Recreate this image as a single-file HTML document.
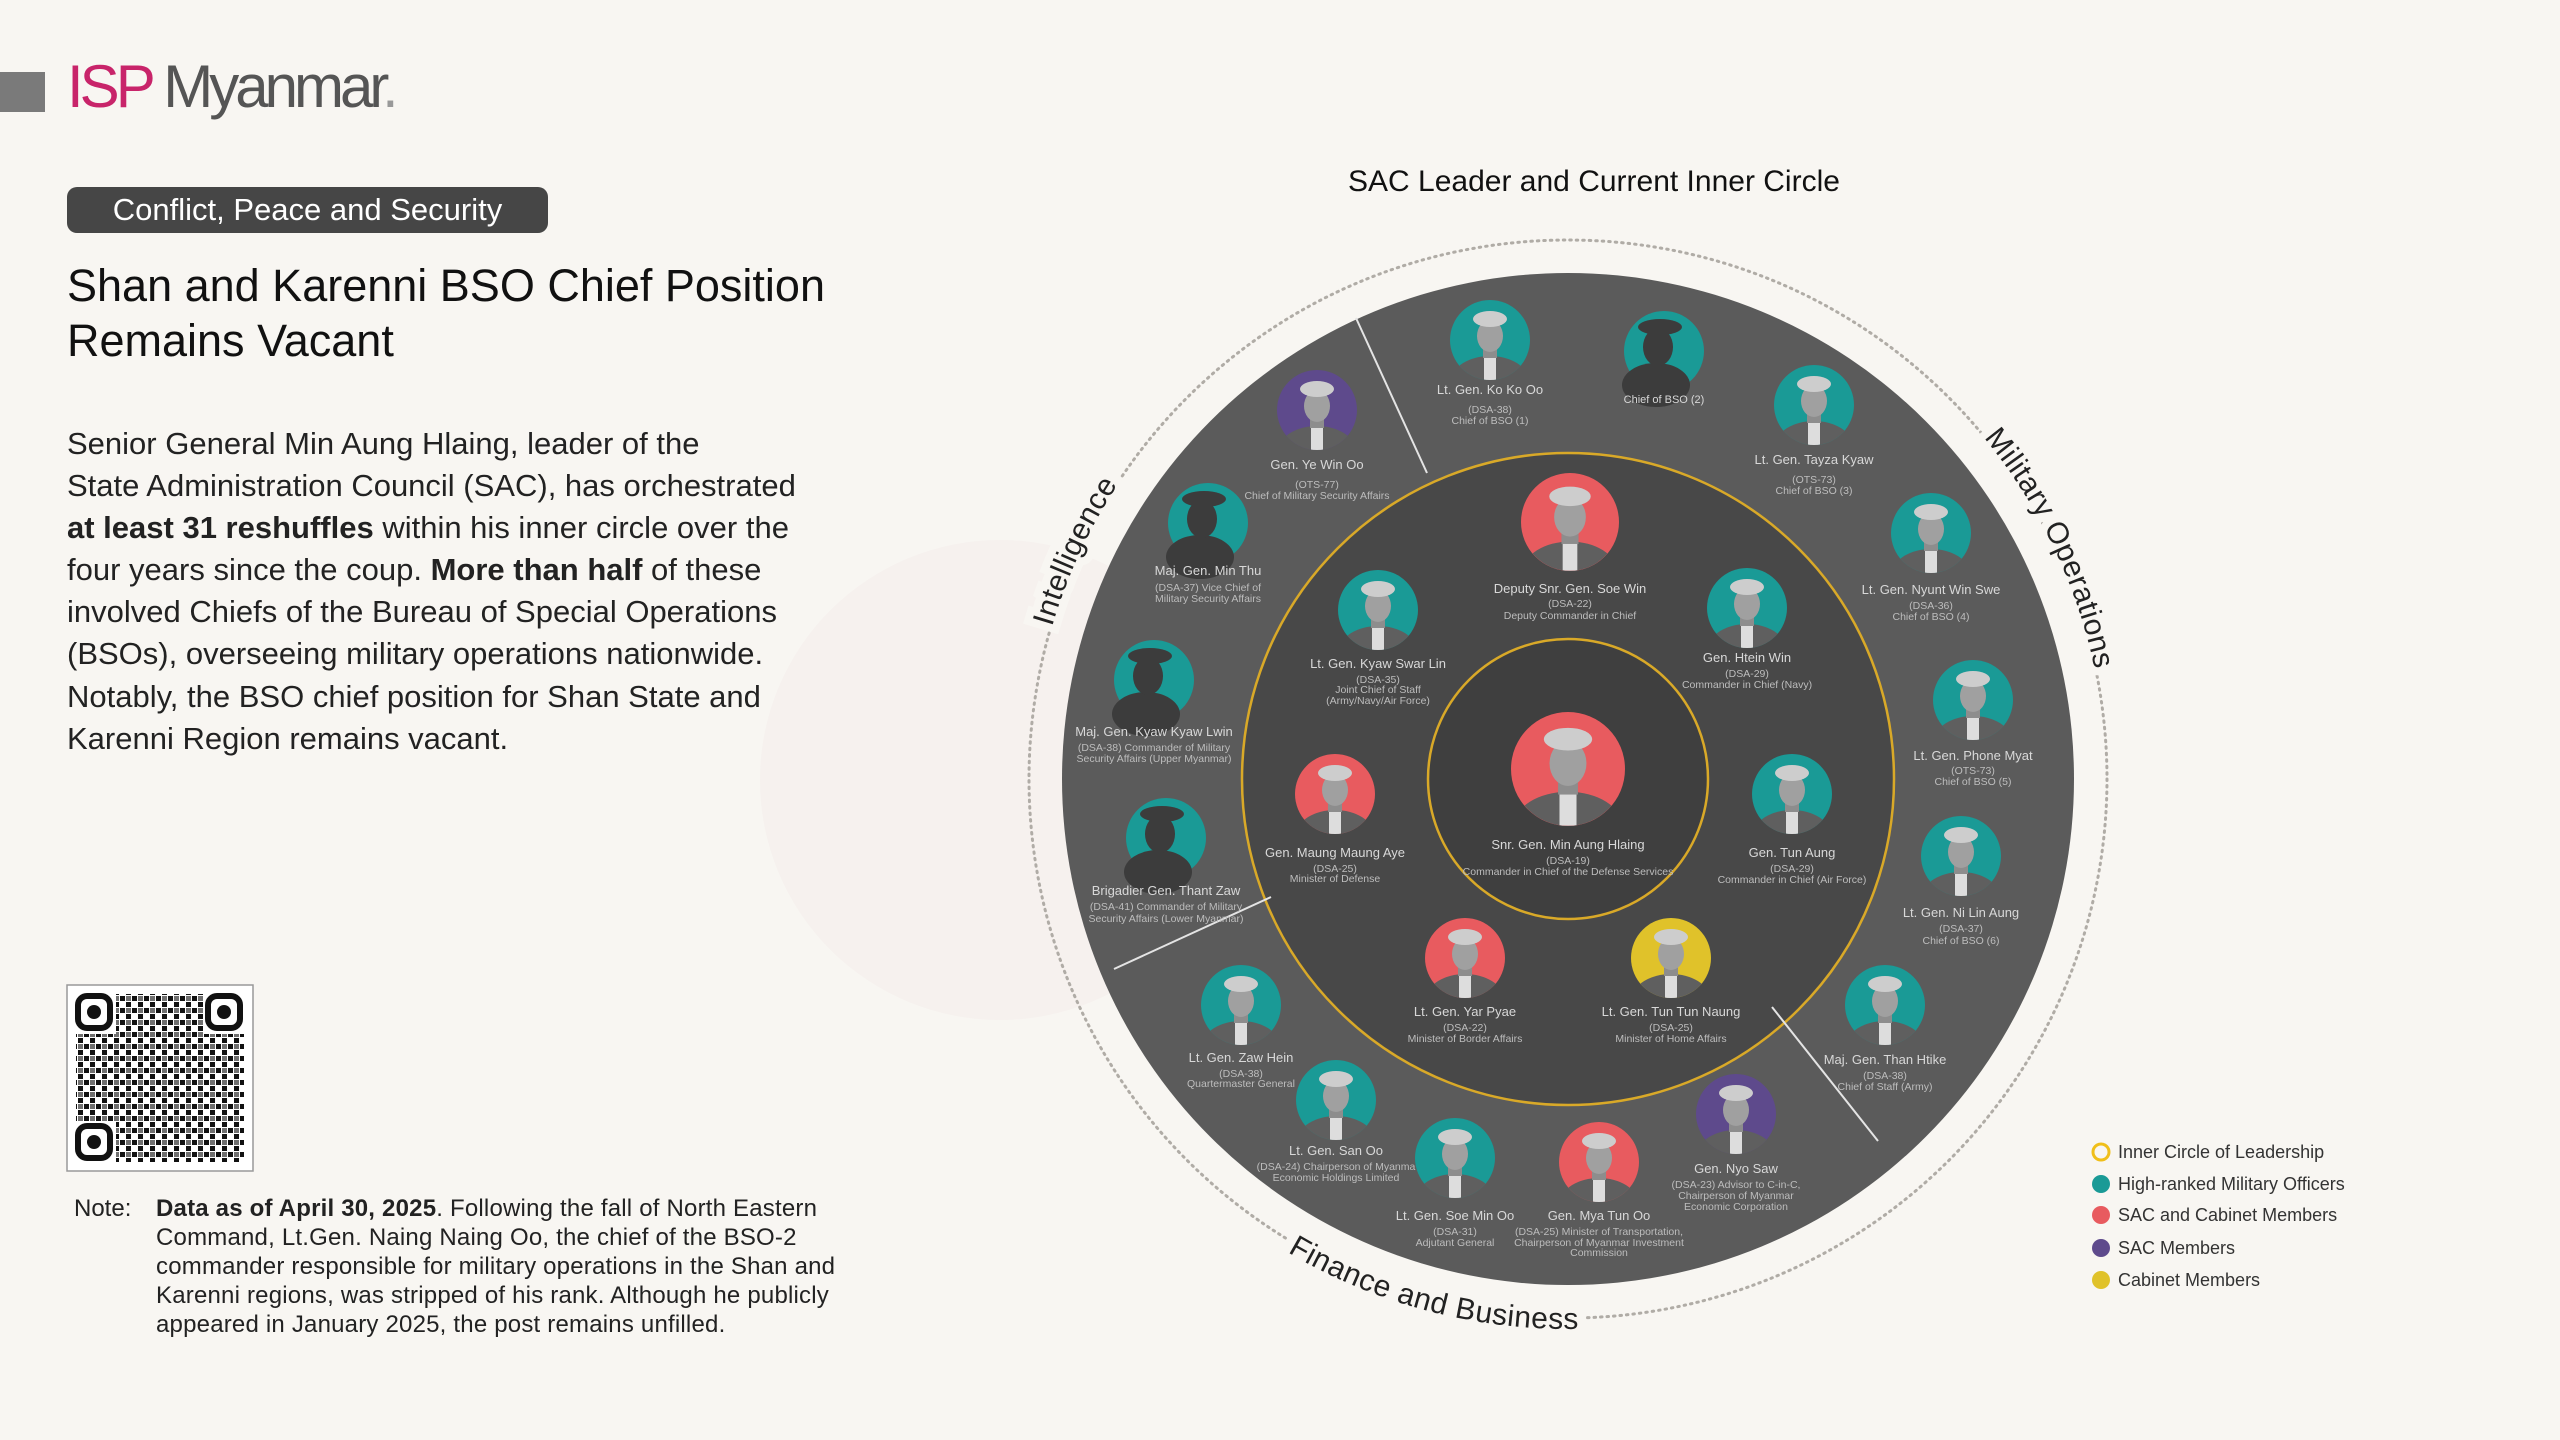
<!DOCTYPE html>
<html><head><meta charset="utf-8">
<style>
html,body{margin:0;padding:0}
body{width:2560px;height:1440px;background:#f8f6f2;position:relative;overflow:hidden;font-family:"Liberation Sans",sans-serif;color:#1a1a1a}
.abs{position:absolute;white-space:nowrap}
</style></head><body>
<svg class="abs" style="left:0;top:0" width="2560" height="1440" viewBox="0 0 2560 1440">
<defs>
<clipPath id="cp"><circle r="40"/></clipPath>
<g id="fig">
 <g clip-path="url(#cp)"><ellipse cx="0" cy="40" rx="38" ry="24" fill="#5f5f5f"/><rect x="-6" y="16" width="12" height="24" fill="#ddd"/></g>
 <rect x="-7" y="4" width="14" height="14" fill="#8d8d8d"/>
 <ellipse cx="0" cy="-4" rx="13" ry="16" fill="#a0a0a0"/>
 <ellipse cx="0" cy="-21" rx="17" ry="8" fill="#cdcdcd"/>
</g>
<g id="sil" fill="#3c3c3c">
 <ellipse cx="-8" cy="34" rx="34" ry="22"/>
 <ellipse cx="-6" cy="-4" rx="15" ry="19"/>
 <ellipse cx="-4" cy="-24" rx="22" ry="8"/>
</g>
<path id="cwp" d="M1030,779 A538,538 0 1 1 2106,779 A538,538 0 1 1 1030,779"/>
<path id="ccwp" d="M1018,779 A550,550 0 1 0 2118,779 A550,550 0 1 0 1018,779"/>
</defs>
<!-- faint watermark -->
<circle cx="1000" cy="780" r="240" fill="#f3e9e7" opacity="0.35"/>
<!-- dotted ring -->
<circle cx="1568" cy="779" r="539" fill="none" stroke="#b0aca6" stroke-width="3" stroke-dasharray="1.5 5" stroke-linecap="round"/>
<!-- disks -->
<circle cx="1568" cy="779" r="506" fill="#5b5b5b"/>
<circle cx="1568" cy="779" r="326" fill="#484848" stroke="#d9a928" stroke-width="2.5"/>
<circle cx="1568" cy="779" r="140" fill="#3f3f3f" stroke="#d9a928" stroke-width="2.5"/>
<!-- dividers -->
<g stroke="#e4e4e4" stroke-width="2">
<line x1="1356" y1="318" x2="1427" y2="473"/>
<line x1="1114" y1="969" x2="1271" y2="897"/>
<line x1="1772" y1="1007" x2="1878" y2="1141"/>
</g>
<!-- curved labels: background stroke pass -->
<g font-size="30" fill="none" stroke="#f8f6f2" stroke-width="16" letter-spacing="0.5">
<text><textPath href="#cwp" startOffset="6.9%" text-anchor="middle">Intelligence</textPath></text>
<text><textPath href="#cwp" startOffset="42.9%" text-anchor="middle">Military Operations</textPath></text>
<text><textPath href="#ccwp" startOffset="20.9%" text-anchor="middle">Finance and Business</textPath></text>
</g>
<g font-size="30" fill="#222" letter-spacing="0.5">
<text><textPath href="#cwp" startOffset="6.9%" text-anchor="middle">Intelligence</textPath></text>
<text><textPath href="#cwp" startOffset="42.9%" text-anchor="middle">Military Operations</textPath></text>
<text><textPath href="#ccwp" startOffset="20.9%" text-anchor="middle">Finance and Business</textPath></text>
</g>
<!-- title -->
<text x="1594" y="191" font-size="30" text-anchor="middle" fill="#111">SAC Leader and Current Inner Circle</text>

<!-- portraits -->
<g>
<circle cx="1490" cy="340" r="40" fill="#1a9a96"/><use href="#fig" x="1490" y="340"/>
<circle cx="1664" cy="351" r="40" fill="#1a9a96"/><use href="#sil" x="1664" y="351"/>
<circle cx="1814" cy="405" r="40" fill="#1a9a96"/><use href="#fig" x="1814" y="405"/>
<circle cx="1317" cy="410" r="40" fill="#5e4a8c"/><use href="#fig" x="1317" y="410"/>
<circle cx="1208" cy="523" r="40" fill="#1a9a96"/><use href="#sil" x="1208" y="523"/>
<circle cx="1931" cy="533" r="40" fill="#1a9a96"/><use href="#fig" x="1931" y="533"/>
<circle cx="1570" cy="522" r="49" fill="#e85b5f"/><use href="#fig" transform="translate(1570,522) scale(1.22)"/>
<circle cx="1378" cy="610" r="40" fill="#1a9a96"/><use href="#fig" x="1378" y="610"/>
<circle cx="1747" cy="608" r="40" fill="#1a9a96"/><use href="#fig" x="1747" y="608"/>
<circle cx="1154" cy="680" r="40" fill="#1a9a96"/><use href="#sil" x="1154" y="680"/>
<circle cx="1973" cy="700" r="40" fill="#1a9a96"/><use href="#fig" x="1973" y="700"/>
<circle cx="1568" cy="769" r="57" fill="#e85b5f"/><use href="#fig" transform="translate(1568,769) scale(1.42)"/>
<circle cx="1335" cy="794" r="40" fill="#e85b5f"/><use href="#fig" x="1335" y="794"/>
<circle cx="1792" cy="794" r="40" fill="#1a9a96"/><use href="#fig" x="1792" y="794"/>
<circle cx="1166" cy="838" r="40" fill="#1a9a96"/><use href="#sil" x="1166" y="838"/>
<circle cx="1961" cy="856" r="40" fill="#1a9a96"/><use href="#fig" x="1961" y="856"/>
<circle cx="1465" cy="958" r="40" fill="#e85b5f"/><use href="#fig" x="1465" y="958"/>
<circle cx="1671" cy="958" r="40" fill="#e0c22a"/><use href="#fig" x="1671" y="958"/>
<circle cx="1241" cy="1005" r="40" fill="#1a9a96"/><use href="#fig" x="1241" y="1005"/>
<circle cx="1885" cy="1005" r="40" fill="#1a9a96"/><use href="#fig" x="1885" y="1005"/>
<circle cx="1336" cy="1100" r="40" fill="#1a9a96"/><use href="#fig" x="1336" y="1100"/>
<circle cx="1736" cy="1114" r="40" fill="#5e4a8c"/><use href="#fig" x="1736" y="1114"/>
<circle cx="1455" cy="1158" r="40" fill="#1a9a96"/><use href="#fig" x="1455" y="1158"/>
<circle cx="1599" cy="1162" r="40" fill="#e85b5f"/><use href="#fig" x="1599" y="1162"/>
</g>

<!-- labels -->
<g text-anchor="middle" fill="#d8d8d8" font-size="13">
<text x="1490" y="394">Lt. Gen. Ko Ko Oo</text>
<text x="1664" y="403" font-size="11">Chief of BSO (2)</text>
<text x="1814" y="464">Lt. Gen. Tayza Kyaw</text>
<text x="1317" y="469">Gen. Ye Win Oo</text>
<text x="1208" y="575">Maj. Gen. Min Thu</text>
<text x="1931" y="594">Lt. Gen. Nyunt Win Swe</text>
<text x="1570" y="593">Deputy Snr. Gen. Soe Win</text>
<text x="1378" y="668">Lt. Gen. Kyaw Swar Lin</text>
<text x="1747" y="662">Gen. Htein Win</text>
<text x="1154" y="736">Maj. Gen. Kyaw Kyaw Lwin</text>
<text x="1973" y="760">Lt. Gen. Phone Myat</text>
<text x="1568" y="849">Snr. Gen. Min Aung Hlaing</text>
<text x="1335" y="857">Gen. Maung Maung Aye</text>
<text x="1792" y="857">Gen. Tun Aung</text>
<text x="1166" y="895">Brigadier Gen. Thant Zaw</text>
<text x="1961" y="917">Lt. Gen. Ni Lin Aung</text>
<text x="1465" y="1016">Lt. Gen. Yar Pyae</text>
<text x="1671" y="1016">Lt. Gen. Tun Tun Naung</text>
<text x="1241" y="1062">Lt. Gen. Zaw Hein</text>
<text x="1885" y="1064">Maj. Gen. Than Htike</text>
<text x="1336" y="1155">Lt. Gen. San Oo</text>
<text x="1736" y="1173">Gen. Nyo Saw</text>
<text x="1455" y="1220">Lt. Gen. Soe Min Oo</text>
<text x="1599" y="1220">Gen. Mya Tun Oo</text>
</g>
<g text-anchor="middle" fill="#bdbdbd" font-size="10.5">
<text x="1490" y="413">(DSA-38)</text><text x="1490" y="424">Chief of BSO (1)</text>
<text x="1814" y="483">(OTS-73)</text><text x="1814" y="494">Chief of BSO (3)</text>
<text x="1317" y="488">(OTS-77)</text><text x="1317" y="499">Chief of Military Security Affairs</text>
<text x="1208" y="591">(DSA-37) Vice Chief of</text><text x="1208" y="602">Military Security Affairs</text>
<text x="1931" y="609">(DSA-36)</text><text x="1931" y="620">Chief of BSO (4)</text>
<text x="1570" y="607">(DSA-22)</text><text x="1570" y="619">Deputy Commander in Chief</text>
<text x="1378" y="683">(DSA-35)</text><text x="1378" y="693">Joint Chief of Staff</text><text x="1378" y="704">(Army/Navy/Air Force)</text>
<text x="1747" y="677">(DSA-29)</text><text x="1747" y="688">Commander in Chief (Navy)</text>
<text x="1154" y="751">(DSA-38) Commander of Military</text><text x="1154" y="762">Security Affairs (Upper Myanmar)</text>
<text x="1973" y="774">(OTS-73)</text><text x="1973" y="785">Chief of BSO (5)</text>
<text x="1568" y="864">(DSA-19)</text><text x="1568" y="875">Commander in Chief of the Defense Services</text>
<text x="1335" y="872">(DSA-25)</text><text x="1335" y="882">Minister of Defense</text>
<text x="1792" y="872">(DSA-29)</text><text x="1792" y="883">Commander in Chief (Air Force)</text>
<text x="1166" y="910">(DSA-41) Commander of Military</text><text x="1166" y="922">Security Affairs (Lower Myanmar)</text>
<text x="1961" y="932">(DSA-37)</text><text x="1961" y="944">Chief of BSO (6)</text>
<text x="1465" y="1031">(DSA-22)</text><text x="1465" y="1042">Minister of Border Affairs</text>
<text x="1671" y="1031">(DSA-25)</text><text x="1671" y="1042">Minister of Home Affairs</text>
<text x="1241" y="1077">(DSA-38)</text><text x="1241" y="1087">Quartermaster General</text>
<text x="1885" y="1079">(DSA-38)</text><text x="1885" y="1090">Chief of Staff (Army)</text>
<text x="1336" y="1170">(DSA-24) Chairperson of Myanma</text><text x="1336" y="1181">Economic Holdings Limited</text>
<text x="1736" y="1188">(DSA-23) Advisor to C-in-C,</text><text x="1736" y="1199">Chairperson of Myanmar</text><text x="1736" y="1210">Economic Corporation</text>
<text x="1455" y="1235">(DSA-31)</text><text x="1455" y="1246">Adjutant General</text>
<text x="1599" y="1235">(DSA-25) Minister of Transportation,</text><text x="1599" y="1246">Chairperson of Myanmar Investment</text><text x="1599" y="1256">Commission</text>
</g>

<!-- legend -->
<g font-size="18" fill="#333">
<circle cx="2101" cy="1152" r="8" fill="none" stroke="#f0bf1a" stroke-width="3"/><text x="2118" y="1158">Inner Circle of Leadership</text>
<circle cx="2101" cy="1184" r="9" fill="#1a9a96"/><text x="2118" y="1190">High-ranked Military Officers</text>
<circle cx="2101" cy="1215" r="9" fill="#e85b5f"/><text x="2118" y="1221">SAC and Cabinet Members</text>
<circle cx="2101" cy="1248" r="9" fill="#5e4a8c"/><text x="2118" y="1254">SAC Members</text>
<circle cx="2101" cy="1280" r="9" fill="#e0c22a"/><text x="2118" y="1286">Cabinet Members</text>
</g>

<!-- logo square -->
<rect x="0" y="72" width="45" height="40" fill="#7a7a7a"/>
<!-- QR -->
<rect x="67" y="985" width="186" height="186" fill="#fff" stroke="#999" stroke-width="1.5"/>
<pattern id="qrp" width="12" height="12" patternUnits="userSpaceOnUse">
<rect x="0" y="0" width="5" height="5" fill="#111"/><rect x="6" y="6" width="5" height="5" fill="#111"/><rect x="6" y="0" width="5" height="5" fill="#111" opacity="0.6"/>
</pattern>
<rect x="76" y="994" width="168" height="168" fill="url(#qrp)"/>
<g fill="#fff"><rect x="74" y="992" width="42" height="42"/><rect x="204" y="992" width="42" height="42"/><rect x="74" y="1122" width="42" height="42"/></g>
<g fill="none" stroke="#111" stroke-width="6"><rect x="78" y="996" width="32" height="32" rx="9"/><rect x="208" y="996" width="32" height="32" rx="9"/><rect x="78" y="1126" width="32" height="32" rx="9"/></g>
<g fill="#111"><circle cx="94" cy="1012" r="7"/><circle cx="224" cy="1012" r="7"/><circle cx="94" cy="1142" r="7"/></g>
</svg>

<div class="abs" style="left:67px;top:52px;font-size:60px;letter-spacing:-4px;line-height:70px"><span style="color:#c8246a">ISP</span><span style="color:#555"> Myanmar</span><span style="color:#999">.</span></div>

<div class="abs" style="left:67px;top:187px;width:481px;height:46px;background:#464646;border-radius:10px;color:#fff;font-size:31px;line-height:46px;text-align:center">Conflict, Peace and Security</div>

<div class="abs" style="left:67px;top:258px;font-size:45px;line-height:55px;color:#111">Shan and Karenni BSO Chief Position<br>Remains Vacant</div>

<div class="abs" style="left:67px;top:423px;font-size:31px;line-height:42.1px;letter-spacing:0px;color:#222">Senior General Min Aung Hlaing, leader of the<br>State Administration Council (SAC), has orchestrated<br><b>at least 31 reshuffles</b> within his inner circle over the<br>four years since the coup. <b>More than half</b> of these<br>involved Chiefs of the Bureau of Special Operations<br>(BSOs), overseeing military operations nationwide.<br>Notably, the BSO chief position for Shan State and<br>Karenni Region remains vacant.</div>

<div class="abs" style="left:74px;top:1194px;font-size:24px;line-height:29px;color:#222">Note:</div>
<div class="abs" style="left:156px;top:1194px;font-size:24px;line-height:29px;letter-spacing:0.2px;color:#222"><b>Data as of April 30, 2025</b>. Following the fall of North Eastern<br>Command, Lt.Gen. Naing Naing Oo, the chief of the BSO-2<br>commander responsible for military operations in the Shan and<br>Karenni regions, was stripped of his rank. Although he publicly<br>appeared in January 2025, the post remains unfilled.</div>
</body></html>
